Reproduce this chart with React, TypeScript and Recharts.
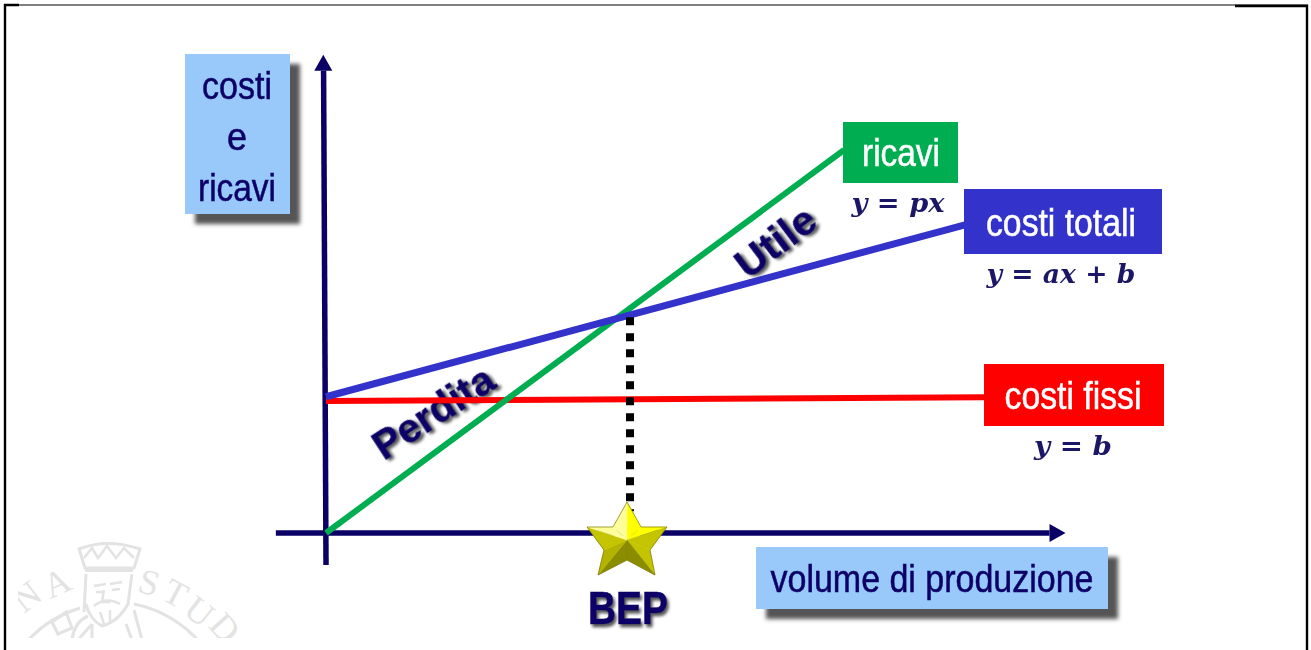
import React from "react"
import { Line, LineChart, ReferenceDot, ReferenceLine, XAxis, YAxis } from "recharts"

const ricaviVolume = [0, 170.4]
const ricaviValue = [0, 175.7]
const totaliVolume = [0, 210.5]
const totaliValue = [62.5, 141.5]
const fissiVolume = [0, 216.5]
const fissiValue = [60.5, 62.3]

const bepVolume = 100
const bepValue = 99

const NAVY = "#0a0066"
const LIGHT_BLUE = "#99c8fa"
const SANS = "'Liberation Sans', Arial, sans-serif"
const SERIF = "'DejaVu Serif', serif"

const toRows = (xs: number[], ys: number[]) => xs.map((x, i) => ({ volume: x, value: ys[i] }))

function ShadowBox({ x, y, width, height }: { x: number; y: number; width: number; height: number }) {
  return (
    <g>
      <rect x={x + 10} y={y + 10} width={width} height={height} fill="#555" filter="url(#soft)" />
      <rect x={x} y={y} width={width} height={height} fill={LIGHT_BLUE} />
    </g>
  )
}

function Label(props: { x: number; y: number; w: number; size?: number; fill?: string; children: string }) {
  const { x, y, w, size = 38, fill = NAVY, children } = props
  return (
    <text
      x={x}
      y={y}
      textAnchor="middle"
      fontFamily={SANS}
      fontSize={size}
      fill={fill}
      stroke={fill}
      strokeWidth={0.5}
      textLength={w}
      lengthAdjust="spacingAndGlyphs"
      filter="url(#faint)"
    >
      {children}
    </text>
  )
}

function Formula({ x, y, w, children }: { x: number; y: number; w: number; children: string }) {
  return (
    <text
      x={x}
      y={y}
      textAnchor="middle"
      fontFamily={SERIF}
      fontWeight="bold"
      fontStyle="italic"
      fontSize={26}
      fill="#1c1866"
      textLength={w}
      lengthAdjust="spacingAndGlyphs"
      filter="url(#faint)"
    >
      {children}
    </text>
  )
}

function BoldShadowText(props: { x: number; y: number; w: number; size: number; angle?: number; children: string }) {
  const { x, y, w, size, angle = 0, children } = props
  return (
    <g transform={`translate(${x} ${y}) rotate(${angle})`}>
      <text
        textAnchor="middle"
        fontFamily={SANS}
        fontWeight="bold"
        fontSize={size}
        fill={NAVY}
        stroke={NAVY}
        strokeWidth={0.6}
        textLength={w}
        lengthAdjust="spacingAndGlyphs"
        filter="url(#textShadow)"
      >
        {children}
      </text>
    </g>
  )
}

function Star({ cx, cy }: { cx: number; cy: number }) {
  const X = cx - 3
  const Y = cy + 7
  const outer = [[0, -38], [40, -13], [28, 35], [-29, 35], [-40, -13]]
  const inner = [[14, -13], [23, 10], [0, 20], [-23, 10], [-14, -13]]
  const colors = ["#ffff00", "#ffff00", "#c4c400", "#c4c400", "#8c8c00", "#8c8c00", "#b4b400", "#c4c400", "#ffff99", "#ffff99"]
  const facets = []
  for (let i = 0; i < 5; i++) {
    facets.push([outer[i], inner[i]])
    facets.push([inner[i], outer[(i + 1) % 5]])
  }
  return (
    <g transform={`translate(${X} ${Y})`}>
      {facets.map((f, i) => (
        <polygon key={i} points={`0,0 ${f[0].join(",")} ${f[1].join(",")}`} fill={colors[i]} stroke={colors[i]} strokeWidth={0.4} />
      ))}
      <polygon
        points={outer.map((p, i) => `${p.join(",")} ${inner[i].join(",")}`).join(" ")}
        fill="none"
        stroke="#77770a"
        strokeWidth={0.7}
      />
    </g>
  )
}

const UpArrow = ({ cx, cy }: { cx: number; cy: number }) => (
  <polygon points={`${cx},${cy - 16} ${cx + 9},${cy} ${cx - 9},${cy}`} fill={NAVY} />
)

const RightArrow = ({ cx, cy }: { cx: number; cy: number }) => (
  <polygon points={`${cx + 16},${cy} ${cx},${cy + 9} ${cx},${cy - 9}`} fill={NAVY} />
)

const sealLetters: [string, number, number, number][] = [
  ["N", 34, 606, -38],
  ["A", 62, 594, -24],
  ["S", 146, 594, 16],
  ["T", 170, 604, 28],
  ["U", 192, 621, 38],
  ["D", 216, 636, 48],
]

// faint university seal behind the chart, cut off at the bottom like the slide
function Seal() {
  const c = "#e3e3e3"
  return (
    <g clipPath="url(#sealClip)">
      {sealLetters.map(([ch, x, y, angle]) => (
        <text key={ch} transform={`translate(${x} ${y}) rotate(${angle})`} textAnchor="middle" fontFamily="'Liberation Serif', serif" fontSize={36} fill={c}>
          {ch}
        </text>
      ))}
      <path d="M 20 650 A 118 118 0 0 1 80 608 M 134 604 A 118 118 0 0 1 206 650" fill="none" stroke={c} strokeWidth={3} />
      <path
        d="M 79 549 Q 107 538 140 549 L 134 568 L 85 568 Z"
        fill="none"
        stroke={c}
        strokeWidth={3}
      />
      <path d="M 84 558 L 92 548 L 98 558 L 107 546 L 116 558 L 124 548 L 134 558" fill="none" stroke={c} strokeWidth={2.5} />
      <path d="M 85 570 L 133 570" stroke={c} strokeWidth={4} />
      <path d="M 86 574 L 84 612 M 132 574 L 128 604 Q 118 622 102 626 Q 90 620 86 604" fill="none" stroke={c} strokeWidth={3} />
      <path d="M 94 586 L 106 584 M 110 584 L 122 582 M 96 592 L 104 592 M 112 590 L 120 589 M 104 590 L 102 602 L 110 602 M 94 606 Q 106 596 120 604 M 100 612 L 104 624 M 110 610 L 110 622" fill="none" stroke={c} strokeWidth={2.5} />
      <path d="M 72 640 Q 74 622 88 616 M 134 610 L 142 640 M 52 622 L 66 612 L 72 628 L 58 634 Z M 78 640 L 92 624 M 126 624 L 132 640 M 92 624 L 92 640" fill="none" stroke={c} strokeWidth={3} />
    </g>
  )
}

export default function App() {
  return (
    <div style={{ position: "absolute", left: 0, top: 0, width: 1311, height: 650, background: "#fff", overflow: "hidden" }}>
      <LineChart width={1311} height={650} margin={{ top: 0, right: 0, bottom: 0, left: 0 }}>
        <defs>
          <filter id="soft" x="-20%" y="-20%" width="140%" height="140%">
            <feGaussianBlur stdDeviation="2" />
          </filter>
          <filter id="faint" x="-10%" y="-20%" width="120%" height="140%">
            <feGaussianBlur stdDeviation="0.45" />
          </filter>
          <filter id="textShadow" x="-20%" y="-40%" width="140%" height="180%">
            <feDropShadow dx="2" dy="3" stdDeviation="1.8" floodColor="#555" />
          </filter>
          <clipPath id="sealClip">
            <rect x={18} y={530} width={226} height={108} />
          </clipPath>
        </defs>

        <XAxis dataKey="volume" type="number" domain={[-107.24, 324.01]} allowDataOverflow hide />
        <YAxis dataKey="value" type="number" domain={[-53.67, 244.5]} allowDataOverflow hide />

        <Seal />

        {/* slide frame */}
        <path d="M 5 650 L 5 5 L 19 5" fill="none" stroke="#000" strokeWidth={2.4} />
        <path d="M 5 5 L 1308 5" fill="none" stroke="#000" strokeWidth={1.2} />
        <path d="M 1235 6 L 1307 6 L 1307 650" fill="none" stroke="#000" strokeWidth={2.4} />

        <ReferenceLine segment={[{ x: -16.5, y: 0 }, { x: 238, y: 0 }]} stroke={NAVY} strokeWidth={5.5} ifOverflow="visible" />
        <ReferenceLine segment={[{ x: 0, y: -14.7 }, { x: -0.8, y: 212 }]} stroke={NAVY} strokeWidth={5.5} ifOverflow="visible" />
        <ReferenceDot x={-0.9} y={212} shape={UpArrow} ifOverflow="visible" />
        <ReferenceDot x={238} y={0} shape={RightArrow} ifOverflow="visible" />

        <Line data={toRows(fissiVolume, fissiValue)} dataKey="value" stroke="#ff0000" strokeWidth={6} dot={false} activeDot={false} isAnimationActive={false} />
        <Line data={toRows(ricaviVolume, ricaviValue)} dataKey="value" stroke="#00ad50" strokeWidth={6} dot={false} activeDot={false} isAnimationActive={false} />
        <Line data={toRows(totaliVolume, totaliValue)} dataKey="value" stroke="#3333cc" strokeWidth={7} dot={false} activeDot={false} isAnimationActive={false} />

        <ReferenceLine
          segment={[{ x: bepVolume, y: bepValue }, { x: bepVolume, y: 10 }]}
          stroke="#000"
          strokeWidth={8}
          strokeDasharray="8 8"
          ifOverflow="visible"
        />
        <ReferenceDot x={bepVolume} y={0} shape={Star} ifOverflow="visible" />

        <ShadowBox x={185} y={54} width={105} height={160} />
        <Label x={237} y={99} w={70}>costi</Label>
        <Label x={237} y={150} w={20}>e</Label>
        <Label x={237} y={201} w={78}>ricavi</Label>

        <ShadowBox x={756} y={547} width={352} height={62} />
        <Label x={932} y={592} w={323}>volume di produzione</Label>

        <rect x={843} y={122} width={115} height={61} fill="#00ad50" />
        <Label x={901} y={166} w={78} fill="#fff">ricavi</Label>
        <Formula x={898} y={212} w={93}>y = px</Formula>

        <rect x={964} y={189} width={198} height={65} fill="#3333cc" />
        <Label x={1061} y={236} w={150} fill="#fff">costi totali</Label>
        <Formula x={1061} y={283} w={149}>y = ax + b</Formula>

        <rect x={984} y={364} width={180} height={62} fill="#ff0000" />
        <Label x={1073} y={409} w={137} fill="#fff">costi fissi</Label>
        <Formula x={1073} y={455} w={78}>y = b</Formula>

        <BoldShadowText x={441} y={424} w={136} size={40} angle={-33}>Perdita</BoldShadowText>
        <BoldShadowText x={784} y={253} w={90} size={40} angle={-37}>Utile</BoldShadowText>
        <BoldShadowText x={628} y={624} w={80} size={46}>BEP</BoldShadowText>
      </LineChart>
    </div>
  )
}
